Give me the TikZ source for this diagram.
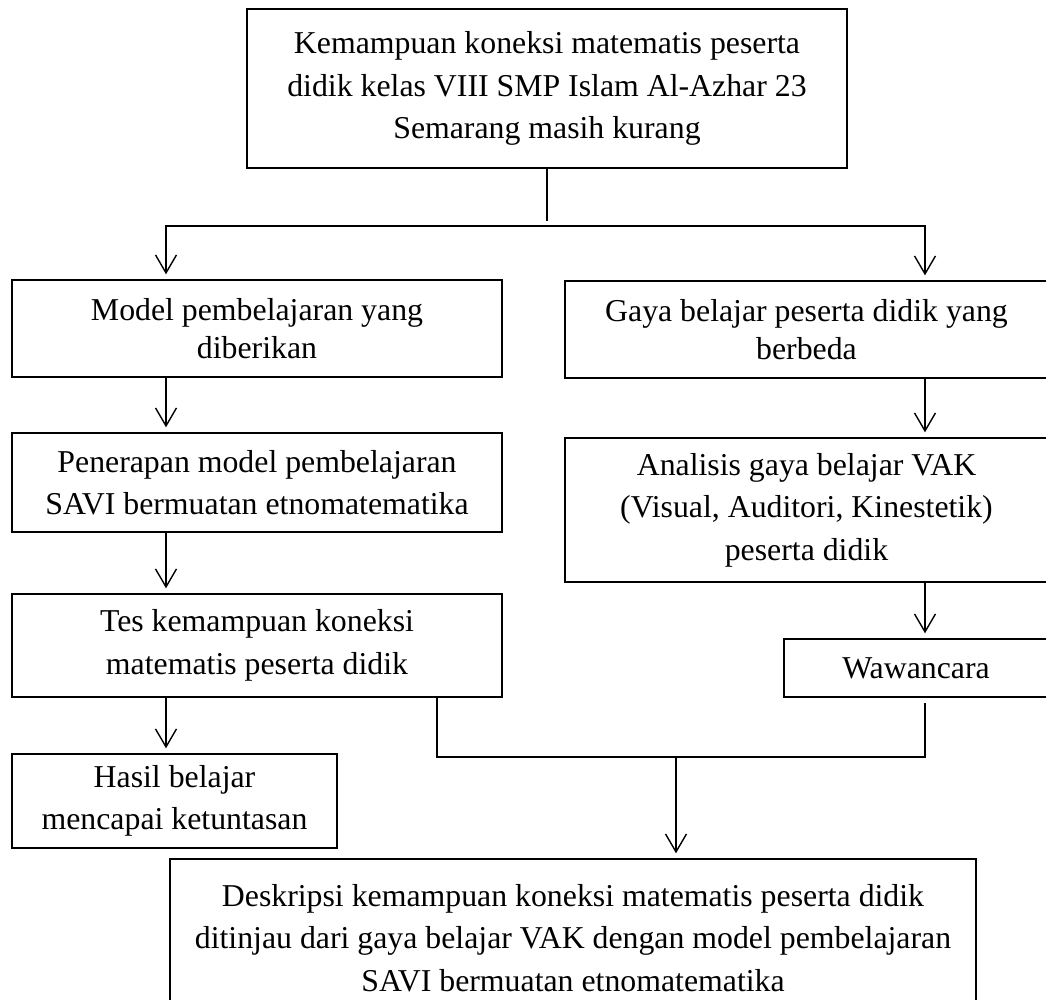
\documentclass[tikz,border=0pt]{standalone}
\usepackage{fontspec}
\setmainfont{Liberation Serif}
\usetikzlibrary{arrows.meta}
\tikzset{
	kotak/.style = {draw=black, line width=0.8pt, align=center, inner sep=0pt,
		text centered, font=\fontsize{18.1pt}{24.2pt}\selectfont},% kotak dasar
	kotak_k/.style = {kotak, minimum width=9.8cm},% kotak kolom kiri
	kotak_r/.style = {kotak, minimum width=9.66cm},% kotak kolom kanan
	rapat/.style = {font=\fontsize{18.1pt}{21.6pt}\selectfont},% baris lebih rapat
	garis/.style = {line width=0.8pt}% garis penghubung
}

\begin{document}
\begin{tikzpicture}[x=0.02cm, y=-0.02cm,
		>={Straight Barb[length=0.36cm,width=0.42cm]}, shorten >=0.1cm]
	\useasboundingbox (0,0) rectangle (1046,1000);
	\node [kotak, minimum width=12cm, minimum height=3.18cm] (atas) at (547,88.5)
		{Kemampuan koneksi matematis peserta\\didik kelas VIII SMP Islam Al-Azhar 23\\Semarang masih kurang};
	\node [kotak_k, rapat, minimum height=1.94cm] (model) at (257,328.5)
		{Model pembelajaran yang\\diberikan};
	\node [kotak_r, rapat, minimum height=1.94cm] (gaya) at (806.5,329.5)
		{Gaya belajar peserta didik yang\\berbeda};
	\node [kotak_k, minimum height=1.98cm] (penerapan) at (257,482.5)
		{Penerapan model pembelajaran\\SAVI bermuatan etnomatematika};
	\node [kotak_r, minimum height=2.88cm] (analisis) at (806.5,510)
		{Analisis gaya belajar VAK\\(Visual, Auditori, Kinestetik)\\peserta didik};
	\node [kotak_k, minimum height=2.06cm] (tes) at (257,645.5)
		{Tes kemampuan koneksi\\matematis peserta didik};
	\node [kotak, minimum width=5.28cm, minimum height=1.16cm] (wawancara) at (916,668)
		{Wawancara};
	\node [kotak, minimum width=6.5cm, minimum height=1.88cm] (hasil) at (174.5,801)
		{Hasil belajar\\mencapai ketuntasan};
	\node [kotak, minimum width=16.12cm, minimum height=3.16cm] (deskripsi) at (573,938)
		{Deskripsi kemampuan koneksi matematis peserta didik\\ditinjau dari gaya belajar VAK dengan model pembelajaran\\SAVI bermuatan etnomatematika};

	\coordinate (kiri) at (166,0);
	\coordinate (kanan) at (925,0);
	\coordinate (tengah) at (437,0);
	\coordinate (cabang) at (547,226);
	\coordinate (gabung) at (676,757);

	\draw [garis] (atas.south) -- (cabang);
	\draw [garis,->] (cabang) -| (kiri |- model.north);
	\draw [garis,->] (cabang) -| (kanan |- gaya.north);
	\draw [garis,->] (kiri |- model.south) -- (kiri |- penerapan.north);
	\draw [garis,->] (kiri |- penerapan.south) -- (kiri |- tes.north);
	\draw [garis,->] (kiri |- tes.south) -- (kiri |- hasil.north);
	\draw [garis,->] (kanan |- gaya.south) -- (kanan |- analisis.north);
	\draw [garis,->] (kanan |- analisis.south) -- (kanan |- wawancara.north);
	\draw [garis] (tengah |- tes.south) |- (gabung) -| (kanan |- wawancara.south);
	\draw [garis,->] (gabung) -- (gabung |- deskripsi.north);
\end{tikzpicture}
\end{document}
